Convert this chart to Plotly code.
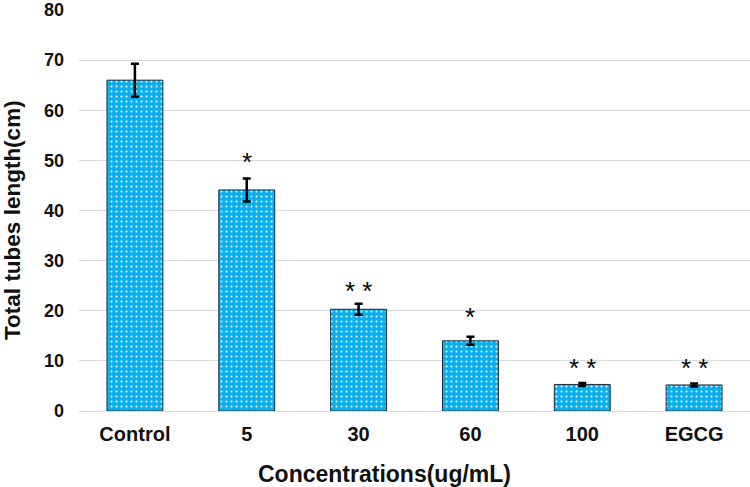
import plotly.graph_objects as go

categories = ["Control", "5", "30", "60", "100", "EGCG"]
values = [66.0, 44.1, 20.3, 14.0, 5.3, 5.2]
errors = [3.3, 2.3, 1.1, 0.8, 0.3, 0.3]
stars = ["", "*", "* *", "*", "* *", "* *"]
star_y = [0, 49.6, 24.0, 18.8, 8.6, 8.6]
y_ticks = [0, 10, 20, 30, 40, 50, 60, 70, 80]
x_title = "Concentrations(ug/mL)"
y_title = "Total tubes length(cm)"

FONT = "Arial, Liberation Sans, sans-serif"
TXT = "#111"

fig = go.Figure()
fig.add_trace(go.Bar(
    x=categories, y=values,
    marker=dict(
        color="#0AB0EE",
        line=dict(color="#1a2a3a", width=1),
        pattern=dict(shape=".", fgcolor="white", bgcolor="#0AB0EE", size=5, solidity=0.12, fillmode="replace"),
    ),
    error_y=dict(type="data", array=errors, visible=True, color="black", thickness=2.5, width=4),
    width=0.5,
))

for i, (s, y) in enumerate(zip(stars, star_y)):
    if s:
        fig.add_annotation(x=i, y=y, xref="x", yref="y", text=s, showarrow=False,
                           font=dict(family=FONT, size=26, color="black"),
                           yanchor="middle")

# axis titles (placed as in the reference, slightly off-centre)
fig.add_annotation(x=-0.1, y=0.475, xref="paper", yref="paper", text=f"<b>{y_title}</b>",
                   textangle=-90, showarrow=False, xanchor="center", yanchor="middle",
                   font=dict(family=FONT, size=22.5, color=TXT))
fig.add_annotation(x=0.456, y=-0.157, xref="paper", yref="paper", text=f"<b>{x_title}</b>",
                   showarrow=False, xanchor="center", yanchor="middle",
                   font=dict(family=FONT, size=23, color=TXT))

fig.update_layout(
    width=750, height=487,
    margin=dict(l=79, r=0, t=9, b=76, autoexpand=False),
    paper_bgcolor="white", plot_bgcolor="white",
    showlegend=False,
    font=dict(family=FONT, color=TXT),
)
fig.update_yaxes(range=[0, 80.2], tickvals=y_ticks, ticktext=[f"<b>{v}</b>" for v in y_ticks],
                 showgrid=True, gridcolor="#d9d9d9", gridwidth=1.3,
                 zeroline=False, showline=False, automargin=False,
                 tickfont=dict(size=18, family=FONT, color=TXT),
                 ticklabelstandoff=14)
fig.update_xaxes(type="category", categoryorder="array", categoryarray=categories,
                 range=[-0.5, 5.5], automargin=False,
                 showline=True, linecolor="#d9d9d9", linewidth=1.3,
                 tickfont=dict(size=20, family=FONT, color=TXT),
                 tickprefix="<b>", ticksuffix="</b>", tickangle=0,
                 ticklabelstandoff=5)
fig.write_html("out.html", config={"displayModeBar": False},
               post_script="document.body.style.margin='0';")
